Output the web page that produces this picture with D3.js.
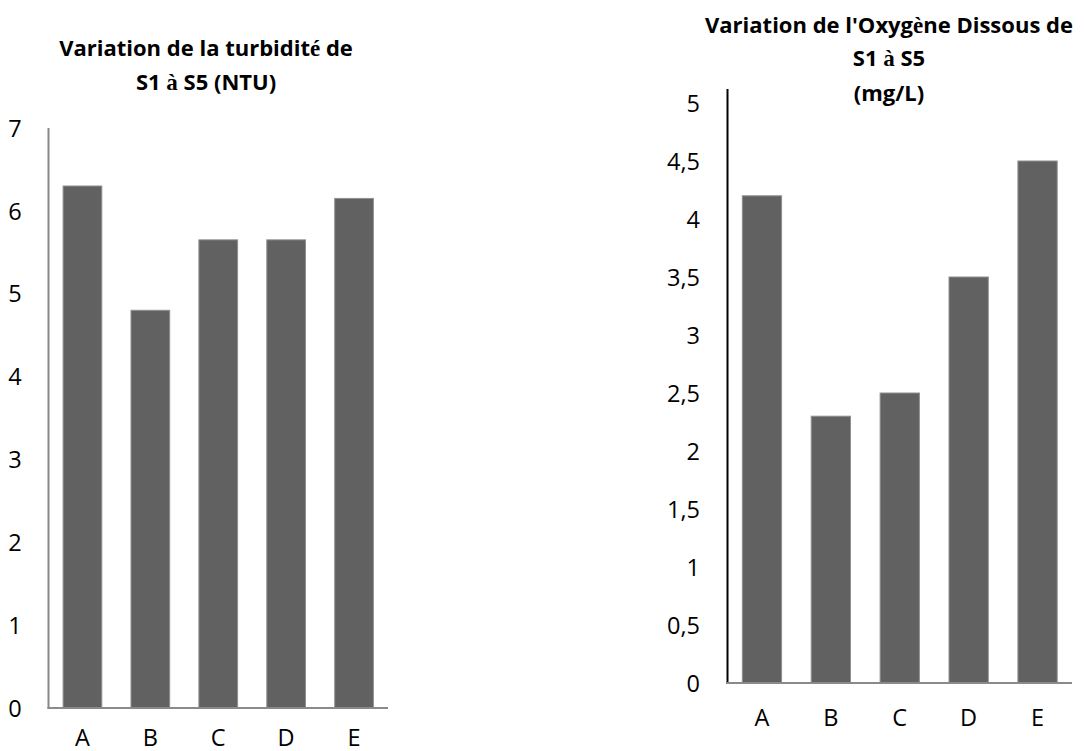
<!DOCTYPE html>
<html>
<head>
<meta charset="utf-8">
<script src="https://cdn.jsdelivr.net/npm/d3@7"></script>
<style>
  html, body { margin: 0; padding: 0; background: #fff; }
  svg { display: block; }
</style>
</head>
<body>
<svg id="chart" width="1086" height="751"></svg>
<script>
// Sampling sites
const sites = ["A", "B", "C", "D", "E"];

// Turbidity per site (NTU)
const turbidity = [6.3, 4.8, 5.65, 5.65, 6.15];
const turbidityTicks = [0, 1, 2, 3, 4, 5, 6, 7];

// Dissolved oxygen per site (mg/L)
const oxygen = [4.2, 2.3, 2.5, 3.5, 4.5];
const oxygenTicks = [0, 0.5, 1, 1.5, 2, 2.5, 3, 3.5, 4, 4.5, 5];

const svg = d3.select("#chart");
const FONT = "'Open Sans', Lato, sans-serif";
const SERIF = "'Liberation Serif', 'DejaVu Serif', serif";
const BAR = "#616161";
const BAR_EDGE = "#8f8f8f";
const TICK_SIZE = 23.5;
const TITLE_SIZE = 22;

// Title lines are arrays of [text, isSerif] runs
function title(lines, cx, ys) {
  lines.forEach((runs, i) => {
    const t = svg.append("text")
      .attr("x", cx).attr("y", ys[i])
      .attr("text-anchor", "middle")
      .attr("font-family", FONT)
      .attr("font-weight", "bold")
      .attr("font-size", TITLE_SIZE)
      .attr("fill", "#000");
    runs.forEach(([s, serif]) => {
      const sp = t.append("tspan").text(s);
      if (serif) sp.attr("font-family", SERIF).attr("font-size", TITLE_SIZE + 1);
    });
  });
}

function barChart(cfg) {
  const x = d3.scaleBand().domain(sites).range([cfg.x0, cfg.x1]).paddingInner(0.43).paddingOuter(0.215);
  const y = d3.scaleLinear().domain([0, cfg.max]).range([cfg.y0, cfg.yTop]);
  const g = svg.append("g");

  // bars
  g.selectAll("rect.bar").data(cfg.values).join("rect")
    .attr("class", "bar")
    .attr("x", (d, i) => x(sites[i]))
    .attr("width", x.bandwidth())
    .attr("y", d => y(d))
    .attr("height", d => y(0) - y(d))
    .attr("fill", BAR)
    .attr("stroke", BAR_EDGE)
    .attr("stroke-width", 1);

  // value axis: labels only, line drawn separately
  const ya = d3.axisLeft(y).tickValues(cfg.ticks).tickSize(0).tickPadding(0)
    .tickFormat(d => String(d).replace(".", ","));
  const yg = g.append("g").attr("transform", `translate(${cfg.labelX},0)`).call(ya);
  yg.select(".domain").remove();
  yg.selectAll("text").attr("font-family", FONT).attr("font-size", TICK_SIZE).attr("fill", "#000")
    .attr("text-anchor", cfg.labelAnchor).attr("dy", "0.35em");

  // category axis labels
  const xa = d3.axisBottom(x).tickSize(0).tickPadding(0);
  const xg = g.append("g").attr("transform", `translate(0,${cfg.catY})`).call(xa);
  xg.select(".domain").remove();
  xg.selectAll("text").attr("font-family", FONT).attr("font-size", TICK_SIZE).attr("fill", "#000")
    .attr("dy", "0.35em");

  // axis lines
  g.append("line").attr("x1", cfg.x0).attr("x2", cfg.x0)
    .attr("y1", cfg.axisTop).attr("y2", cfg.y0 + 1)
    .attr("stroke", cfg.yAxisColor).attr("stroke-width", 2);
  g.append("line").attr("x1", cfg.x0 - 1).attr("x2", cfg.x1)
    .attr("y1", cfg.y0).attr("y2", cfg.y0)
    .attr("stroke", "#8a8a8a").attr("stroke-width", 2);
}

// Turbidity chart
title([
  [["Variation de la turbidit", false], ["é", true], [" de", false]],
  [["S1 ", false], ["à", true], [" S5 (NTU)", false]]
], 206, [56, 90]);

barChart({
  values: turbidity, ticks: turbidityTicks, max: 7,
  x0: 48.5, x1: 388, y0: 708, yTop: 128, axisTop: 128,
  labelX: 15, labelAnchor: "middle", catY: 738,
  yAxisColor: "#888888"
});

// Dissolved oxygen chart
title([
  [["Variation de l'Oxyg", false], ["è", true], ["ne Dissous de", false]],
  [["S1 ", false], ["à", true], [" S5", false]],
  [["(mg/L)", false]]
], 889, [33, 66, 101]);

barChart({
  values: oxygen, ticks: oxygenTicks, max: 5,
  x0: 727.5, x1: 1072, y0: 683, yTop: 103, axisTop: 89,
  labelX: 700, labelAnchor: "end", catY: 718,
  yAxisColor: "#000000"
});
</script>
</body>
</html>
